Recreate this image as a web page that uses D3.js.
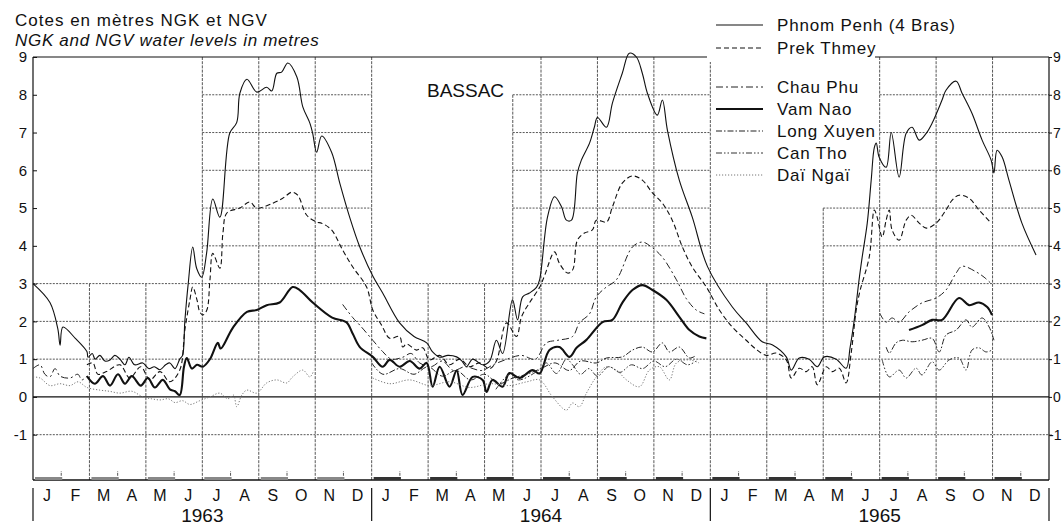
<!DOCTYPE html>
<html><head><meta charset="utf-8">
<script src="https://cdn.jsdelivr.net/npm/d3@7"></script>
<style>
body{margin:0;background:#fff}
text{font-family:"Liberation Sans","DejaVu Sans",Arial,sans-serif;fill:#111}
</style>
</head><body>
<svg id="c" width="1064" height="526"></svg>
<script>
// ---- data (x = months since 1 Jan 1963, y = water level in metres) ----
const monthLabels = ["J","F","M","A","M","J","J","A","S","O","N","D"];
const years = ["1963","1964","1965"];
const yTicks = [-1,0,1,2,3,4,5,6,7,8,9];

const phnomPenh = [[
[0,3.0],[0.6,2.5],[0.88,1.8],[0.96,1.37],[1.06,1.85],[1.5,1.55],[1.91,1.2],[1.95,1.05],[2.1,1.15],[2.2,1.0],[2.37,1.1],[2.55,0.95],[2.73,0.98],[2.9,1.1],[3.08,1.0],[3.26,0.85],[3.4,1.05],[3.6,0.85],[3.89,0.9],[4.1,0.75],[4.3,0.8],[4.5,0.72],[4.7,0.85],[4.85,0.9],[5.03,0.75],[5.2,1.0],[5.3,1.1],[5.38,2.0],[5.5,3.0],[5.66,3.97],[5.8,3.4],[5.98,3.17],[6.15,3.8],[6.37,5.24],[6.62,4.76],[6.97,6.98],[7.22,7.27],[7.33,8.04],[7.58,8.41],[7.93,8.07],[8.28,8.2],[8.46,8.1],[8.64,8.57],[8.81,8.6],[9.03,8.84],[9.35,8.47],[9.56,7.68],[9.81,7.25],[9.91,6.98],[10.05,6.48],[10.23,6.91],[10.58,6.48],[10.87,5.66],[11.22,4.76],[11.58,3.97],[12.04,3.2],[12.39,2.75],[12.99,1.96],[13.5,1.6],[13.95,1.43],[14.16,1.19],[14.41,1.05],[14.7,1.1],[15.01,1.06],[15.2,0.95],[15.36,0.8],[15.58,1.0],[15.93,0.85],[16.18,0.95],[16.42,1.5],[16.64,1.15],[16.99,2.57],[17.17,2.04],[17.35,2.65],[17.59,2.75],[17.84,2.9],[17.95,3.1],[18.23,4.76],[18.48,5.3],[18.73,5.03],[18.9,4.68],[19.08,4.68],[19.29,5.93],[19.43,6.27],[19.72,6.72],[19.89,7.14],[20.0,7.4],[20.32,7.14],[20.53,7.78],[20.88,8.57],[21.13,9.1],[21.38,9.0],[21.59,8.57],[21.77,8.04],[22.12,7.46],[22.3,7.86],[22.48,7.06],[22.9,5.74],[23.36,4.76],[23.9,3.45],[24.78,2.38],[25.27,1.96],[25.84,1.46],[26.19,1.38],[26.69,1.06],[26.87,0.71],[27.15,1.03],[27.5,1.0],[27.79,0.8],[28.04,1.06],[28.46,1.0],[28.81,0.76],[28.95,1.3],[29.1,2.04],[29.27,3.1],[29.38,3.7],[29.56,4.6],[29.7,5.74],[29.81,6.6],[29.88,6.72],[29.98,6.35],[30.23,6.08],[30.41,7.0],[30.69,5.82],[30.94,6.98],[31.15,7.14],[31.4,6.8],[31.65,6.98],[31.86,7.25],[32.21,7.86],[32.35,8.12],[32.71,8.36],[32.92,8.04],[33.27,7.51],[33.63,6.8],[33.95,6.27],[34.05,5.93],[34.16,6.53],[34.34,6.35],[34.58,5.74],[35.04,4.6],[35.54,3.76]
]];

const prekThmey = [[
[1.91,0.85],[2.12,0.9],[2.3,0.6],[2.6,0.67],[3.08,0.85],[3.43,0.5],[3.82,0.8],[4.14,0.45],[4.5,0.67],[4.85,0.4],[5.2,0.71],[5.38,1.77],[5.56,2.57],[5.66,2.91],[5.81,2.57],[5.91,2.25],[6.02,2.17],[6.16,2.3],[6.27,3.1],[6.37,3.8],[6.62,3.41],[6.73,4.34],[6.87,4.87],[7.33,5.0],[7.68,5.16],[7.93,5.0],[8.5,5.13],[8.85,5.26],[9.17,5.42],[9.38,5.34],[9.7,4.81],[10.05,4.63],[10.23,4.6],[10.58,4.42],[10.97,3.89],[11.33,3.44],[11.82,2.91],[12.04,2.3],[12.35,1.9],[12.64,1.55],[12.99,1.6],[13.1,1.32],[13.24,1.4],[13.59,1.24],[13.81,1.3],[14.05,0.98],[14.41,1.1],[14.76,0.85],[15.12,1.0],[15.47,0.8],[15.82,0.9],[16.18,0.75],[16.42,0.95],[16.78,1.96],[17.13,1.6],[17.31,2.12],[17.59,2.49],[17.95,2.9],[18.12,3.2],[18.48,3.84],[18.65,3.54],[18.94,3.28],[19.12,3.36],[19.29,4.15],[19.54,4.34],[19.82,4.42],[19.96,4.68],[20.32,4.63],[20.53,5.03],[20.88,5.66],[21.24,5.85],[21.59,5.74],[21.95,5.4],[22.3,5.13],[22.65,4.68],[23.01,3.97],[23.36,3.44],[23.86,2.91],[24.32,2.3],[24.78,1.85],[25.27,1.5],[25.66,1.24],[25.98,1.1],[26.34,1.16],[26.69,0.98],[26.87,0.5],[27.15,0.76],[27.4,0.67],[27.61,0.8],[27.79,0.32],[28.11,0.8],[28.32,0.67],[28.57,0.76],[28.81,0.37],[28.99,1.16],[29.17,2.3],[29.3,2.8],[29.63,3.7],[29.81,4.95],[29.91,4.76],[30.09,4.23],[30.23,4.68],[30.34,4.95],[30.44,4.42],[30.69,4.15],[30.94,4.68],[31.12,4.81],[31.4,4.6],[31.65,4.47],[32.0,4.6],[32.35,4.95],[32.57,5.21],[32.81,5.34],[33.17,5.26],[33.52,4.95],[33.95,4.6]
]];

const chauPhu = [
[[0,0.75],[0.25,0.85],[0.42,0.6],[0.6,0.53],[0.78,0.75],[0.96,0.55],[1.31,0.5],[1.59,0.6],[1.73,0.45],[1.91,0.55]],
[[10.97,2.45],[11.33,2.1],[11.58,1.9],[12.04,1.5],[12.39,1.2],[12.7,1.0],[13.1,1.05],[13.4,1.15],[13.7,0.9],[14.1,0.8],[14.5,0.95],[14.9,0.7],[15.3,0.8],[15.9,0.7],[16.3,0.85],[16.8,1.0],[17.3,1.1],[17.8,1.0],[18.19,1.43],[18.6,1.5],[19.12,1.6],[19.36,1.96],[19.72,2.2],[19.96,2.65],[20.3,2.9],[20.67,3.1],[21.24,3.97],[21.59,4.1],[21.91,3.97],[22.3,3.7],[22.8,3.1],[23.15,2.6],[23.5,2.3],[23.79,2.2]],
[[30.0,2.22],[30.23,1.98],[30.44,2.09],[30.69,1.98],[31.04,2.25],[31.5,2.49],[32.0,2.62],[32.35,2.83],[32.71,3.28],[32.92,3.46],[33.42,3.31],[33.7,3.17],[33.95,3.0]]
];

const vamNao = [
[[1.91,0.55],[2.19,0.35],[2.48,0.55],[2.73,0.3],[3.01,0.6],[3.26,0.35],[3.5,0.55],[3.82,0.3],[4.07,0.5],[4.32,0.25],[4.6,0.45],[4.85,0.2],[5.03,0.15],[5.2,0.05],[5.35,0.8],[5.45,1.03],[5.63,0.75],[5.81,0.85],[6.02,0.8],[6.27,1.0],[6.55,1.43],[6.65,1.28],[7.08,1.83],[7.58,2.25],[7.93,2.3],[8.28,2.43],[8.74,2.5],[9.2,2.91],[9.45,2.83],[9.91,2.5],[10.6,2.1],[11.1,1.98],[11.33,1.67],[11.58,1.32],[12.04,1.06],[12.39,0.8],[12.64,0.98],[12.99,0.8],[13.35,0.95],[13.7,0.75],[13.95,0.9],[14.16,0.27],[14.41,0.8],[14.76,0.27],[15.01,0.7],[15.22,0.05],[15.58,0.53],[15.93,0.45],[16.07,0.13],[16.28,0.45],[16.64,0.27],[16.88,0.63],[17.24,0.5],[17.7,0.71],[17.95,0.62],[18.3,1.24],[18.65,1.32],[19.01,1.06],[19.26,1.3],[19.61,1.51],[20.18,1.98],[20.53,2.04],[20.88,2.49],[21.24,2.83],[21.59,2.96],[21.95,2.83],[22.44,2.57],[22.9,2.12],[23.26,1.77],[23.61,1.6],[23.86,1.55]],
[[31.04,1.77],[31.5,1.9],[31.86,2.04],[32.21,2.04],[32.81,2.62],[33.17,2.43],[33.52,2.5],[33.81,2.38],[33.98,2.17]]
];

const longXuyen = [
[[12.0,0.9],[12.4,0.6],[12.99,0.75],[13.5,0.6],[14.0,0.8],[14.5,0.55],[15.0,0.7],[15.5,0.45],[16.0,0.6],[16.5,0.35],[17.0,0.5],[17.5,0.6],[18.0,0.75],[18.5,0.9],[19.0,0.7],[19.4,0.95],[19.96,0.9],[20.32,1.03],[20.88,1.06],[21.24,1.24],[21.59,1.32],[21.95,1.19],[22.3,1.43],[22.55,1.19],[22.9,1.32],[23.26,1.03],[23.5,1.1]],
[[30.23,1.32],[30.34,1.16],[30.58,1.43],[30.8,1.5],[31.15,1.46],[31.5,1.5],[31.86,1.55],[32.11,1.19],[32.35,1.64],[32.71,1.77],[33.06,2.04],[33.27,1.85],[33.63,2.09],[33.88,1.85],[34.05,1.5]]
];

const canTho = [
[[16.4,0.2],[16.9,0.6],[17.2,0.45],[17.9,0.7],[18.19,0.9],[18.55,0.62],[18.9,1.0],[19.12,0.85],[19.4,0.6],[19.7,0.75],[20.0,0.55],[20.4,0.8],[20.8,0.65],[21.2,0.85],[21.6,0.75],[22.0,0.95],[22.4,0.8],[22.8,1.0],[23.2,0.85],[23.5,0.95]],
[[30.09,0.98],[30.34,0.53],[30.69,0.71],[30.94,0.5],[31.29,0.76],[31.5,0.58],[31.86,0.93],[32.11,0.71],[32.46,0.98],[32.81,1.03],[33.06,0.71],[33.27,1.24],[33.52,1.3],[33.77,1.19],[33.98,1.24]]
];

const daiNgai = [
[[0,0.53],[0.25,0.5],[0.6,0.3],[0.96,0.35],[1.31,0.3],[1.6,0.4],[1.91,0.25],[2.37,0.18],[2.7,0.15],[3.08,0.1],[3.5,0.15],[3.89,0.0],[4.2,-0.05],[4.5,-0.08],[4.8,-0.05],[5.03,-0.15],[5.3,-0.1],[5.56,-0.2],[5.91,-0.1],[6.27,0.0],[6.62,0.1],[6.9,-0.05],[7.1,0.05],[7.22,-0.26],[7.4,0.05],[7.58,0.18],[7.93,0.1],[8.28,0.37],[8.64,0.45],[8.99,0.37],[9.2,0.53],[9.56,0.71],[9.81,0.53],[9.95,0.7]],
[[12.04,0.5],[12.64,0.35],[13.35,0.45],[14.05,0.3],[14.76,0.4],[15.47,0.25],[16.18,0.35],[16.88,0.3],[17.5,0.4],[17.95,0.45],[18.41,0.0],[18.9,-0.35],[19.12,-0.16],[19.36,-0.26],[19.61,0.1],[19.96,0.53],[20.32,0.8],[20.67,0.71],[21.03,0.45],[21.49,0.27],[21.84,0.71],[22.19,0.8],[22.55,0.45],[22.8,0.9],[23.26,0.98],[23.6,0.9]]
];

// highest grid level drawn in each month (the original drawing leaves blank areas)
const gridTop = [3,3,3,3,3,3, 9,9,9,9,9,9, 3,3,3,3,3,8, 9,9,9,9,9,9, 3,3,3,3,5,5, 9,9,9,9,9,9];

const series = [
  {name:"Phnom Penh (4 Bras)", data:phnomPenh, dash:null, w:1.1, color:"#111"},
  {name:"Prek Thmey", data:prekThmey, dash:"5,3", w:1.1, color:"#111"},
  {name:"Chau Phu", data:chauPhu, dash:"7,3,2,3", w:1, color:"#222"},
  {name:"Vam Nao", data:vamNao, dash:null, w:2.1, color:"#111"},
  {name:"Long Xuyen", data:longXuyen, dash:"6,2,1.5,2", w:1, color:"#222"},
  {name:"Can Tho", data:canTho, dash:"6,2,1.5,2,1.5,2", w:1, color:"#333"},
  {name:"Daï Ngaï", data:daiNgai, dash:"1.2,1.8", w:1, color:"#777"}
];
const legendY = [31, 54, 93, 115, 137, 159, 181];

// ---- drawing ----
const svg = d3.select("#c");
const x = d3.scaleLinear().domain([0,36]).range([33,1049]);
const y = d3.scaleLinear().domain([-2.2,9]).range([480,57]);
const g = svg.append("g");

// horizontal grid
for (let L=-1; L<=8; L++){
  let start=null;
  for (let m=0; m<=36; m++){
    const ok = m<36 && gridTop[m]>=L;
    if (ok && start===null) start=m;
    if (!ok && start!==null){
      g.append("line").attr("x1",x(start)).attr("x2",x(m)).attr("y1",y(L)).attr("y2",y(L))
        .attr("stroke", L===0 ? "#111" : "#444")
        .attr("stroke-width", L===0 ? 1.4 : 0.9)
        .attr("stroke-dasharray", L===0 ? null : "2,1.3");
      start=null;
    }
  }
}
// vertical grid
for (let b=1; b<36; b++){
  const t = Math.max(gridTop[b-1], gridTop[b]);
  const full = (b%2===0) || gridTop[b-1]!==gridTop[b];
  g.append("line").attr("x1",x(b)).attr("x2",x(b)).attr("y1",y(-2.2))
    .attr("y2", full ? y(t) : y(-2.2)-9)
    .attr("stroke","#444").attr("stroke-width",0.9)
    .attr("stroke-dasharray","3,1.2");
}
// frame
g.append("line").attr("x1",x(0)).attr("x2",x(0)).attr("y1",y(9)).attr("y2",y(-2.2)).attr("stroke","#111").attr("stroke-width",1.2);
g.append("line").attr("x1",x(36)).attr("x2",x(36)).attr("y1",y(9)).attr("y2",y(-2.2)).attr("stroke","#111").attr("stroke-width",1.2);
g.append("line").attr("x1",x(0)).attr("x2",x(36)).attr("y1",y(-2.2)).attr("y2",y(-2.2)).attr("stroke","#111").attr("stroke-width",1.3);
g.append("line").attr("x1",x(0)).attr("x2",x(36)).attr("y1",y(9)).attr("y2",y(9)).attr("stroke","#111").attr("stroke-width",1.2);

// bottom month bars
for (let m=0; m<36; m+=2){
  g.append("rect").attr("x",x(m)+2).attr("width",x(m+1)-x(m)-1)
    .attr("y",y(-2.2)-3).attr("height",3)
    .attr("fill", m<12 ? "#888" : "#333");
}

// axis ticks & labels
const fmt = d=>d<0?"-"+Math.abs(d):String(d);
const leftAxis = d3.axisLeft(y).tickValues(yTicks).tickSize(-4).tickPadding(6).tickFormat(fmt);
const la = svg.append("g").attr("transform",`translate(${x(0)},0)`).call(leftAxis);
la.select(".domain").remove();
la.selectAll("text").style("font-size","15px").attr("fill","#111");
la.selectAll("line").attr("stroke","#111");
const rightAxis = d3.axisRight(y).tickValues(yTicks).tickSize(3).tickPadding(1).tickFormat(fmt);
const ra = svg.append("g").attr("transform",`translate(${x(36)},0)`).call(rightAxis);
ra.select(".domain").remove();
ra.selectAll("text").style("font-size","14px").attr("fill","#111")
  .attr("dx", d=> d<0 ? "-4" : "0");
ra.selectAll("line").attr("stroke","#111");

// month & year labels
for (let m=0; m<36; m++){
  svg.append("text").attr("x",x(m+0.5)).attr("y",501).attr("text-anchor","middle")
    .style("font-size","16px").text(monthLabels[m%12]);
}
years.forEach((yr,i)=>{
  svg.append("text").attr("x",x(i*12+6)).attr("y",522).attr("text-anchor","middle")
    .style("font-size","19px").text(yr);
});
for (let i=0;i<=3;i++){
  svg.append("line").attr("x1",x(i*12)).attr("x2",x(i*12)).attr("y1",488).attr("y2",521)
    .attr("stroke","#111").attr("stroke-width",1.2);
}

// curves
const line = d3.line().x(d=>x(d[0])).y(d=>y(d[1])).curve(d3.curveCatmullRom.alpha(0.5));
const cg = svg.append("g");
series.forEach(s=>{
  s.data.forEach(seg=>{
    cg.append("path").attr("d",line(seg)).attr("fill","none")
      .attr("stroke",s.color).attr("stroke-width",s.w)
      .attr("stroke-dasharray",s.dash).attr("stroke-linejoin","round");
  });
});

// legend (blank area over the frame)
svg.append("rect").attr("x",707).attr("y",0).attr("width",168).attr("height",62).attr("fill","#fff");
series.forEach((s,i)=>{
  const ly = legendY[i];
  svg.append("line").attr("x1",716).attr("x2",763).attr("y1",ly-6).attr("y2",ly-6)
    .attr("stroke",s.color).attr("stroke-width",s.w).attr("stroke-dasharray",s.dash);
  svg.append("text").attr("x",777).attr("y",ly).style("font-size","17px")
    .style("letter-spacing","0.8px").text(s.name);
});

// titles
svg.append("text").attr("x",15).attr("y",26).style("font-size","17px").style("letter-spacing","1px").text("Cotes en mètres NGK et NGV");
svg.append("text").attr("x",15).attr("y",46).style("font-size","17px").style("letter-spacing","0.7px").style("font-style","italic").text("NGK and NGV water levels in metres");
svg.append("text").attr("x",427).attr("y",97).style("font-size","19px").text("BASSAC");
</script>
</body></html>
